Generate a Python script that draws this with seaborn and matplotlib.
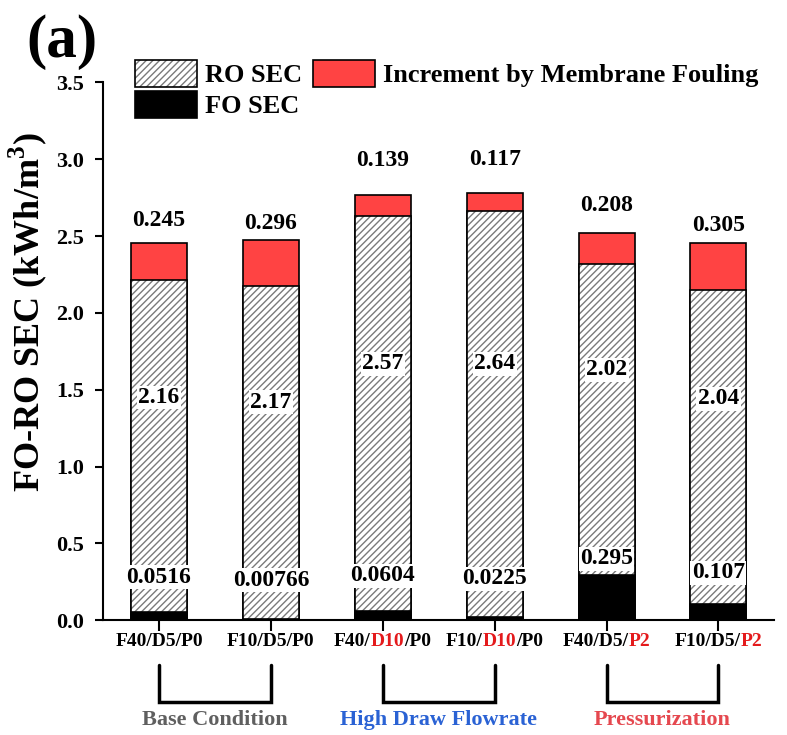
import matplotlib
matplotlib.use("Agg")
import matplotlib.pyplot as plt
from matplotlib.patches import Patch, Rectangle
import seaborn as sns
import numpy as np

# data (kWh/m3)
conditions = ["F40/D5/P0", "F10/D5/P0", "F40/D10/P0", "F10/D10/P0", "F40/D5/P2", "F10/D5/P2"]
fo_sec = [0.0516, 0.00766, 0.0604, 0.0225, 0.295, 0.107]
ro_sec = [2.16, 2.17, 2.57, 2.64, 2.02, 2.04]
fouling = [0.245, 0.296, 0.139, 0.117, 0.208, 0.305]

# tick label pieces: (text, highlighted?)
tick_parts = [
    [("F40/D5/P0", False)],
    [("F10/D5/P0", False)],
    [("F40/", False), ("D10", True), ("/P0", False)],
    [("F10/", False), ("D10", True), ("/P0", False)],
    [("F40/D5/", False), ("P2", True)],
    [("F10/D5/", False), ("P2", True)],
]
groups = ["Base Condition", "High Draw Flowrate", "Pressurization"]
group_colors = ["#5f5f5f", "#2a62d4", "#e5484f"]

# where the value labels sit (data units)
top_lab_y = [2.60, 2.58, 2.99, 3.00, 2.70, 2.57]
ro_lab_y = [1.45, 1.42, 1.67, 1.67, 1.63, 1.44]
fo_lab_y = [0.28, 0.26, 0.29, 0.27, 0.40, 0.31]

RED = "#ff4343"
HATCH_GRAY = "#7a7a7a"

sns.set_theme(style="ticks")
plt.rcParams.update({
    "font.family": ["Liberation Serif", "DejaVu Serif"],
    "font.weight": "bold",
    "mathtext.fontset": "custom",
    "mathtext.rm": "Liberation Serif:bold",
    "mathtext.bf": "Liberation Serif:bold",
    "hatch.linewidth": 1.0,
    "axes.linewidth": 1.5,
    "text.color": "black",
    "axes.labelcolor": "black",
    "axes.edgecolor": "black",
    "xtick.color": "black",
    "ytick.color": "black",
})

fo = np.array(fo_sec)
ro_top = fo + np.array(ro_sec)
total = ro_top + np.array(fouling)

fig = plt.figure(figsize=(7.87, 7.35), dpi=100)
ax = fig.add_axes([0.131, 0.156, 0.853, 0.732])

# stacked bars drawn as cumulative layers
sns.barplot(x=conditions, y=total, color=RED, saturation=1, width=0.5,
            edgecolor="black", linewidth=1.2, ax=ax)
n_before = len(ax.patches)
sns.barplot(x=conditions, y=ro_top, color="white", saturation=1, width=0.5,
            edgecolor=HATCH_GRAY, linewidth=0, hatch="/////", ax=ax)
for p in ax.patches[n_before:]:
    ax.add_patch(Rectangle(p.get_xy(), p.get_width(), p.get_height(),
                           fill=False, edgecolor="black", linewidth=1.2, zorder=p.get_zorder() + 0.1))
sns.barplot(x=conditions, y=fo, color="black", saturation=1, width=0.5,
            edgecolor="black", linewidth=1.2, ax=ax)

# value labels
lab_kw = dict(ha="center", va="center", fontsize=17, fontweight="bold", zorder=10)
box = dict(facecolor="white", edgecolor="none", pad=1.0)
for i in range(len(conditions)):
    ax.text(i, top_lab_y[i], f"{fouling[i]:g}", **lab_kw)
    ax.text(i, ro_lab_y[i], f"{ro_sec[i]:g}", bbox=box, **lab_kw)
    ax.text(i, fo_lab_y[i], f"{fo_sec[i]:g}", bbox=box, **lab_kw)

ax.set_xlim(-0.5, 5.5)
ax.set_ylim(0, 3.5)
ax.set_yticks(np.arange(0, 3.51, 0.5))
ax.set_yticklabels([f"{v:.1f}" for v in np.arange(0, 3.51, 0.5)], fontsize=16, fontweight="bold")
ax.tick_params(axis="y", direction="out", length=6, width=1.5, pad=8)
ax.tick_params(axis="x", direction="out", length=8, width=1.5)
ax.set_xticks(range(len(conditions)))
ax.set_xticklabels([])
ax.set_xlabel("")
sns.despine(ax=ax)

ax.set_ylabel(r"FO-RO SEC (kWh/m$^\mathbf{3}$)", fontsize=26, fontweight="bold")
ax.yaxis.label.set_va("center")
ax.yaxis.set_label_coords(-0.112, 0.572)

# multi-coloured tick labels
fig.canvas.draw()
renderer = fig.canvas.get_renderer()
px_per_unit = ax.transData.transform((1, 0))[0] - ax.transData.transform((0, 0))[0]
xtr = ax.get_xaxis_transform()
tick_font = dict(fontsize=14, fontweight="bold")
for i, parts in enumerate(tick_parts):
    widths = []
    for txt, _ in parts:
        t = ax.text(0, 0, txt, **tick_font)
        widths.append(t.get_window_extent(renderer).width)
        t.remove()
    x = i - sum(widths) / 2 / px_per_unit
    for (txt, hi), w in zip(parts, widths):
        ax.text(x, -0.039, txt, transform=xtr, ha="left", va="center",
                color="#e41a1c" if hi else "black", clip_on=False, **tick_font)
        x += w / px_per_unit

# group brackets
y_top, y_bot = -0.0836, -0.152
for g, (name, col) in enumerate(zip(groups, group_colors)):
    a, b = 2 * g, 2 * g + 1
    ax.plot([a, a, b, b], [y_top, y_bot, y_bot, y_top], transform=xtr,
            color="black", lw=2.5, clip_on=False, solid_joinstyle="miter")
    ax.text((a + b) / 2, -0.186, name, transform=xtr, ha="center", va="center",
            color=col, fontsize=16, fontweight="bold", clip_on=False)

# legend
h_ro = (Patch(facecolor="white", edgecolor=HATCH_GRAY, hatch="/////", linewidth=0),
        Patch(fill=False, edgecolor="black", linewidth=1.2))
h_fo = Patch(facecolor="black", edgecolor="black", linewidth=1.2)
h_inc = Patch(facecolor=RED, edgecolor="black", linewidth=1.2)
fig.legend([h_ro, h_fo, h_inc], ["RO SEC", "FO SEC", "Increment by Membrane Fouling"],
           ncol=2, loc="upper left", bbox_to_anchor=(135 / 787, 1 - 60 / 735),
           frameon=False, handlelength=2.35, handleheight=1.17,
           labelspacing=0.15, handletextpad=0.3, columnspacing=0.4,
           borderpad=0, borderaxespad=0, prop={"weight": "bold", "size": 19})

fig.text(62 / 787, 1 - 42 / 735, "(a)", ha="center", va="center", fontsize=44, fontweight="bold")

fig.savefig("out.png", dpi=100)
